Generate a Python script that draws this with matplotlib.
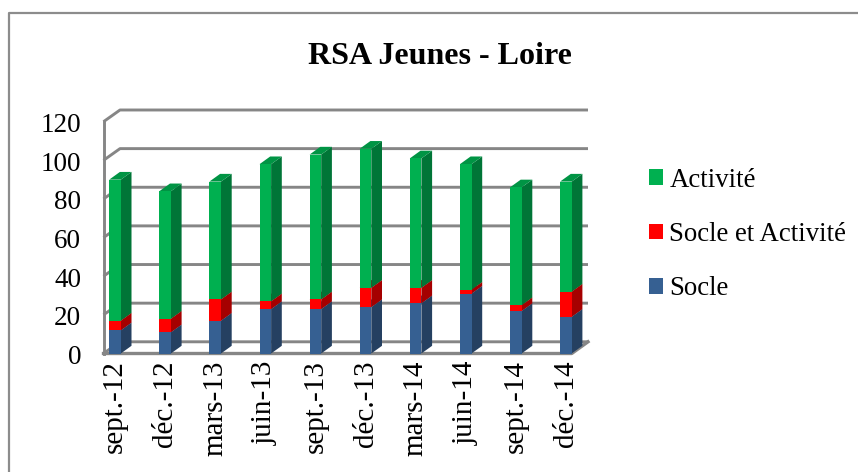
import matplotlib
matplotlib.use("Agg")
import matplotlib.pyplot as plt
from matplotlib.patches import Polygon
from matplotlib.lines import Line2D
from matplotlib.transforms import ScaledTranslation

months = ['sept.-12', 'déc.-12', 'mars-13', 'juin-13', 'sept.-13',
          'déc.-13', 'mars-14', 'juin-14', 'sept.-14', 'déc.-14']
socle = [12, 11, 17, 23, 23, 24, 26, 31, 22, 19]
socle_activite = [5, 7, 11, 4, 5, 10, 8, 2, 3, 13]
activite = [73, 66, 61, 71, 75, 72, 67, 65, 61, 57]
yticks = [0, 20, 40, 60, 80, 100, 120]

W, H = 858.0, 472.0
GRAY = '#868686'
FONT = 'Liberation Serif'

plt.rcParams['font.family'] = FONT

fig = plt.figure(figsize=(8.58, 4.72), dpi=100)
# chart frame only shows on the top and left
fig.add_artist(Line2D([9/W, 9/W, 1], [0, (H-12.5)/H, (H-12.5)/H], color='#8c8c8c', lw=1.6))

# axes box runs from the left wall to the back right corner, 0 to 120 on y
left, right, y0, y120 = 103.5, 588.0, 353.5, 121.7
ax = fig.add_axes([left/W, (H-y0)/H, (right-left)/W, (y0-y120)/H])
ax.patch.set_alpha(0)
# one category is 50.1 px, first bar centre at 115 px
cat = 50.1
ax.set_xlim((left-115)/cat, (right-115)/cat)
ax.set_ylim(0, 120)

# depth of walls and of bars, in data units
wall_dx, wall_dy = 16.5/cat, 11.7/1.93
bar_dx, bar_dy = 10.7/cat, 7.7/1.93
bar_w = 11.6/cat

xa = ax.get_xlim()[0]
xf = (571.7-115)/cat
xb = ax.get_xlim()[1]
for v in yticks:
    ax.plot([xa, xa+wall_dx, xb], [v, v+wall_dy, v+wall_dy], color=GRAY, lw=2.1,
            clip_on=False, zorder=1, solid_capstyle='butt')
ax.plot([xa, xa], [0, 120], color=GRAY, lw=2.1, clip_on=False, zorder=1)
ax.plot([xa, xf, xb], [0, 0, wall_dy], color=GRAY, lw=2.4, clip_on=False, zorder=1)


def bar_3d(xs, bottoms, vals, front, side, top, label):
    bars = ax.bar(xs, vals, bar_w, bottom=bottoms, color=front, label=label, zorder=3, clip_on=False)
    for x, b, v in zip(xs, bottoms, vals):
        xr = x + bar_w/2
        xl = x - bar_w/2
        ax.add_patch(Polygon([(xr, b), (xr+bar_dx, b+bar_dy), (xr+bar_dx, b+v+bar_dy), (xr, b+v)],
                             fc=side, ec='none', zorder=2.5, clip_on=False))
        ax.add_patch(Polygon([(xl, b+v), (xl+bar_dx, b+v+bar_dy), (xr+bar_dx, b+v+bar_dy), (xr, b+v)],
                             fc=top, ec='none', zorder=2.5, clip_on=False))
    return bars


xs = list(range(len(months)))
b2 = socle
b3 = [a+b for a, b in zip(socle, socle_activite)]
bar_3d(xs, [0]*len(xs), socle, '#366092', '#254061', '#2c4f78', 'Socle')
bar_3d(xs, b2, socle_activite, '#FF0000', '#A50000', '#C00000', 'Socle et Activité')
bar_3d(xs, b3, activite, '#00B050', '#007537', '#009444', 'Activité')

for s in ax.spines.values():
    s.set_visible(False)
ax.set_xticks(xs)
ax.set_xticklabels(months, rotation=90, fontsize=21)
ax.set_yticks(yticks)
ax.tick_params(axis='x', length=0, labelsize=21, pad=5)
ax.tick_params(axis='y', length=0, labelsize=19.5, pad=16)
# y labels sit a little lower than the ticks
shift = ScaledTranslation(0, -1/100, fig.dpi_scale_trans)
for lab in ax.get_yticklabels():
    lab.set_transform(lab.get_transform() + shift)

h, l = ax.get_legend_handles_labels()
leg = fig.legend(h[::-1], l[::-1], loc='center left', bbox_to_anchor=(649/W, (H-234.5)/H), frameon=False,
                 fontsize=19.3, labelspacing=1.1, handlelength=0.53, handleheight=0.53, handletextpad=0.23,
                 borderpad=0, borderaxespad=0)

fig.text(440/W, (H-57)/H, 'RSA Jeunes - Loire', ha='center', va='center', fontsize=23, fontweight='bold')

fig.savefig('out.png', dpi=100)
